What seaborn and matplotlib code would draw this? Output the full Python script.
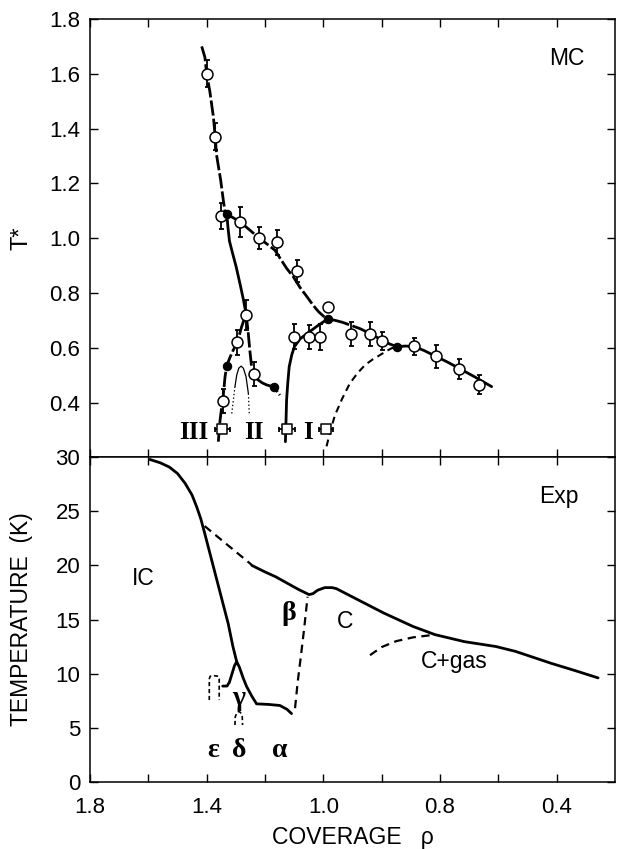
import numpy as np
import pandas as pd
import matplotlib
matplotlib.use("Agg")
import matplotlib.pyplot as plt
import seaborn as sns

# ---------------- data: top panel (MC) ----------------
open_x = [1.40, 1.37, 1.35, 1.285, 1.22, 1.16, 1.09, 1.265, 1.295, 1.345, 1.237,
          1.10, 1.05, 1.01, 0.905, 0.84, 0.80, 0.69, 0.615, 0.535, 0.468, 0.985]
open_y = [1.60, 1.37, 1.08, 1.06, 1.00, 0.985, 0.88, 0.72, 0.62, 0.405, 0.505,
          0.64, 0.64, 0.64, 0.65, 0.65, 0.625, 0.605, 0.568, 0.523, 0.465, 0.75]
open_err = [0.05, 0.05, 0.048, 0.055, 0.04, 0.045, 0.04, 0.055, 0.045, 0.043, 0.044,
            0.045, 0.043, 0.048, 0.044, 0.044, 0.034, 0.03, 0.042, 0.036, 0.035, 0.0]

filled_x = [1.331, 0.985, 1.331, 1.168, 0.748]
filled_y = [1.087, 0.705, 0.535, 0.455, 0.604]

square_x = [1.346, 1.124, 0.991]
square_y = [0.305, 0.305, 0.305]
square_xerr = [0.027, 0.027, 0.024]

lineA_x = [1.417, 1.406, 1.400, 1.389, 1.377, 1.371, 1.366, 1.352, 1.343, 1.336]
lineA_y = [1.70, 1.66, 1.60, 1.535, 1.443, 1.373, 1.303, 1.212, 1.139, 1.09]

lineB_x = [1.331, 1.327, 1.322, 1.31, 1.299, 1.285, 1.273, 1.265]
lineB_y = [1.087, 1.04, 0.99, 0.94, 0.896, 0.83, 0.77, 0.723]
lineB2_x = [1.265, 1.258, 1.252, 1.246]
lineB2_y = [0.723, 0.66, 0.59, 0.531]
lineB3_x = [1.240, 1.237, 1.232, 1.223, 1.21, 1.194, 1.18, 1.168]
lineB3_y = [0.52, 0.505, 0.49, 0.482, 0.472, 0.464, 0.46, 0.455]
lineB4_x = [1.168, 1.158, 1.149]
lineB4_y = [0.455, 0.44, 0.427]

lineC_x = [1.331, 1.31, 1.286, 1.255, 1.223, 1.195, 1.166, 1.126, 1.103, 1.08, 1.056, 1.035, 1.016, 0.996]
lineC_y = [1.087, 1.075, 1.06, 1.032, 1.003, 0.98, 0.956, 0.89, 0.859, 0.82, 0.786, 0.755, 0.731, 0.712]

lineD1_x = [0.985, 0.96, 0.935, 0.909, 0.875, 0.84, 0.80, 0.771, 0.748]
lineD1_y = [0.705, 0.70, 0.693, 0.683, 0.67, 0.652, 0.628, 0.613, 0.604]
lineD2_x = [0.748, 0.72, 0.692, 0.655, 0.617, 0.575, 0.535, 0.48, 0.423]
lineD2_y = [0.604, 0.606, 0.605, 0.59, 0.570, 0.548, 0.525, 0.493, 0.458]

lineE_x = [1.130, 1.128, 1.126, 1.122, 1.117, 1.108, 1.099, 1.08, 1.056, 1.035, 1.016, 0.996]
lineE_y = [0.257, 0.33, 0.409, 0.47, 0.531, 0.575, 0.604, 0.632, 0.652, 0.668, 0.683, 0.697]

lineF_x = [0.989, 0.975, 0.960, 0.935, 0.909, 0.883, 0.857, 0.83, 0.806, 0.785, 0.766, 0.748]
lineF_y = [0.24, 0.30, 0.354, 0.415, 0.470, 0.507, 0.537, 0.558, 0.573, 0.587, 0.598, 0.604]

lineG_x = [1.360, 1.357, 1.354, 1.350, 1.345, 1.337, 1.331, 1.320, 1.309, 1.295, 1.280, 1.265]
lineG_y = [0.257, 0.30, 0.336, 0.37, 0.405, 0.494, 0.535, 0.565, 0.591, 0.62, 0.677, 0.723]

arch_x = [1.303, 1.297, 1.290, 1.282, 1.274, 1.265, 1.257]
arch_y = [0.458, 0.50, 0.525, 0.533, 0.525, 0.494, 0.433]
archL_x = [1.314, 1.303]
archL_y = [0.36, 0.458]
archR_x = [1.257, 1.254]
archR_y = [0.433, 0.36]

top_yticks = [0.4, 0.6, 0.8, 1.0, 1.2, 1.4, 1.6, 1.8]
top_yticklabels = ["0.4", "0.6", "0.8", "1.0", "1.2", "1.4", "1.6", "1.8"]

# ---------------- data: bottom panel (Exp) ----------------
ic_x = [1.595, 1.56, 1.528, 1.50, 1.474, 1.45, 1.434, 1.42, 1.407, 1.38, 1.353, 1.326, 1.31, 1.297]
ic_y = [29.8, 29.5, 29.1, 28.5, 27.6, 26.5, 25.4, 24.3, 23.0, 20.2, 17.4, 14.6, 12.5, 11.1]

bump_x = [1.345, 1.33, 1.322, 1.314, 1.305, 1.297, 1.288, 1.275, 1.263, 1.245, 1.229, 1.19, 1.149, 1.125, 1.109]
bump_y = [8.84, 8.85, 9.2, 9.9, 10.7, 11.1, 10.6, 9.6, 8.8, 7.9, 7.2, 7.15, 7.05, 6.7, 6.3]

eps_x = [1.391, 1.391, 1.388, 1.374, 1.36, 1.357, 1.357]
eps_y = [7.55, 9.5, 9.75, 9.8, 9.75, 9.5, 7.55]

delta_x = [1.303, 1.302, 1.296, 1.29, 1.284, 1.278, 1.277]
delta_y = [5.24, 6.0, 6.4, 6.5, 6.4, 6.0, 5.24]

cdash_x = [1.407, 1.245]
cdash_y = [23.64, 20.04]

cline_x = [1.245, 1.20, 1.164, 1.12, 1.083, 1.06, 1.049, 1.035, 1.02, 0.995, 0.97, 0.955,
           0.894, 0.793, 0.692, 0.617, 0.516, 0.408, 0.341, 0.28, 0.219, 0.14, 0.058]
cline_y = [20.0, 19.4, 18.96, 18.3, 17.75, 17.45, 17.3, 17.4, 17.7, 17.95, 17.95, 17.85,
           17.0, 15.6, 14.35, 13.6, 12.95, 12.5, 12.05, 11.5, 10.95, 10.3, 9.6]

beta_x = [1.097, 1.088, 1.077, 1.066, 1.054]
beta_y = [6.8, 9.2, 11.6, 14.1, 17.1]

cgas_x = [0.84, 0.80, 0.75, 0.692, 0.646, 0.617]
cgas_y = [11.7, 12.45, 13.0, 13.35, 13.5, 13.6]

bot_yticks = [0, 5, 10, 15, 20, 25, 30]
bot_yticklabels = ["0", "5", "10", "15", "20", "25", "30"]

xticks = [1.8, 1.6, 1.4, 1.2, 1.0, 0.8, 0.6, 0.4, 0.2]
xticklabels = ["1.8", "", "1.4", "", "1.0", "", "0.8", "", "0.4"]

# ---------------- style ----------------
sns.set_theme(style="ticks")
plt.rcParams["font.family"] = ["Liberation Sans", "DejaVu Sans"]
plt.rcParams["lines.scale_dashes"] = False
plt.rcParams["axes.linewidth"] = 1.1
plt.rcParams["text.color"] = "black"
plt.rcParams["axes.labelcolor"] = "black"
plt.rcParams["xtick.color"] = "black"
plt.rcParams["ytick.color"] = "black"
plt.rcParams["xtick.labelcolor"] = "black"
plt.rcParams["ytick.labelcolor"] = "black"

fig = plt.figure(figsize=(6.17, 8.49), dpi=100)
W, H = 617.0, 849.0
L, R = 90.0, 615.0
ax_top = fig.add_axes([L / W, 1 - 457.3 / H, (R - L) / W, (457.3 - 19) / H])
ax_bot = fig.add_axes([L / W, 1 - 781.7 / H, (R - L) / W, (781.7 - 457.3) / H])

K = "black"
LW = 2.0


def draw(ax, x, y, ls="-", lw=LW, z=2):
    sns.lineplot(x=x, y=y, ax=ax, sort=False, estimator=None, color=K,
                 linewidth=lw, linestyle=ls, zorder=z)


longdash = (0, (11, 2.2))
shortdash = (0, (5, 3.5))
bdash = (0, (6, 4))
SERIF = ["Liberation Serif", "DejaVu Serif"]

# top panel lines
draw(ax_top, lineA_x, lineA_y, longdash)
draw(ax_top, lineB_x, lineB_y, "-")
draw(ax_top, lineB2_x, lineB2_y, longdash)
draw(ax_top, lineB3_x, lineB3_y, "-")
draw(ax_top, lineB4_x, lineB4_y, (0, (4, 2)))
draw(ax_top, lineC_x, lineC_y, longdash)
draw(ax_top, lineD1_x, lineD1_y, (0, (16, 2.5)))
draw(ax_top, lineD2_x, lineD2_y, "-")
draw(ax_top, lineE_x, lineE_y, "-")
draw(ax_top, lineF_x, lineF_y, shortdash, lw=1.5)
draw(ax_top, lineG_x, lineG_y, longdash)
draw(ax_top, arch_x, arch_y, "-", lw=0.9)
draw(ax_top, archL_x, archL_y, ":", lw=0.9)
draw(ax_top, archR_x, archR_y, ":", lw=0.9)

# error bars
ax_top.errorbar(open_x, open_y, yerr=open_err, fmt="none", ecolor=K,
                elinewidth=1.3, capsize=1.8, capthick=1.3, zorder=3)
ax_top.errorbar(square_x, square_y, xerr=square_xerr, fmt="none", ecolor=K,
                elinewidth=1.3, capsize=1.8, capthick=1.3, zorder=3)

# markers
sns.scatterplot(x=open_x, y=open_y, ax=ax_top, marker="o", s=62,
                facecolor="white", edgecolor=K, linewidth=1.1, zorder=5)
sns.scatterplot(x=filled_x, y=filled_y, ax=ax_top, marker="o", s=36,
                color=K, edgecolor=K, linewidth=0.8, zorder=6)
sns.scatterplot(x=square_x, y=square_y, ax=ax_top, marker="s", s=50,
                facecolor="white", edgecolor=K, linewidth=1.1, zorder=6)

# roman numerals
for txt, xx in [("III", 1.446), ("II", 1.237), ("I", 1.051)]:
    ax_top.text(xx, 0.29, txt, family=SERIF, fontweight="bold", fontsize=18,
                ha="center", va="center", color=K)

ax_top.text(0.166, 1.656, "MC", fontsize=16.5, ha="center", va="center", color=K)

ax_top.set_xlim(1.8, 0.0)
ax_top.set_ylim(0.2, 1.8)
ax_top.set_xticks(xticks)
ax_top.set_xticklabels([])
ax_top.set_yticks(top_yticks)
ax_top.set_yticklabels(top_yticklabels)
ax_top.set_ylabel("T*", fontsize=17, va="center", ha="center", color=K)
ax_top.yaxis.set_label_coords(-0.13, 0.5)
ax_top.set_xlabel("")

# bottom panel lines
draw(ax_bot, ic_x, ic_y, "-")
draw(ax_bot, bump_x, bump_y, "-")
draw(ax_bot, eps_x, eps_y, (0, (3, 2)), lw=1.2)
draw(ax_bot, delta_x, delta_y, (0, (3, 2)), lw=1.2)
draw(ax_bot, cdash_x, cdash_y, bdash, lw=1.6)
draw(ax_bot, cline_x, cline_y, "-")
draw(ax_bot, beta_x, beta_y, bdash, lw=1.6)
draw(ax_bot, cgas_x, cgas_y, bdash, lw=1.6)

ax_bot.text(0.193, 26.4, "Exp", fontsize=16.5, ha="center", va="center", color=K)
ax_bot.text(1.616, 18.8, "IC", fontsize=16.5, ha="center", va="center", color=K)
ax_bot.text(0.927, 14.8, "C", fontsize=16.5, ha="center", va="center", color=K)
ax_bot.text(0.550, 11.1, "C+gas", fontsize=16.5, ha="center", va="center", color=K)
greek = [("β", 1.119, 15.6), ("γ", 1.292, 7.7), ("ε", 1.376, 2.9),
         ("δ", 1.290, 2.9), ("α", 1.151, 2.9)]
for g, gx, gy in greek:
    ax_bot.text(gx, gy, g, family=SERIF, fontweight="bold", fontsize=20,
                ha="center", va="center", color=K)

ax_bot.set_xlim(1.8, 0.0)
ax_bot.set_ylim(0, 30)
ax_bot.set_xticks(xticks)
ax_bot.set_xticklabels(xticklabels)
ax_bot.set_yticks(bot_yticks)
ax_bot.set_yticklabels(bot_yticklabels)
ax_bot.set_ylabel("TEMPERATURE  (K)", fontsize=16.5, va="center", ha="center", color=K)
ax_bot.yaxis.set_label_coords(-0.13, 0.5)
ax_bot.set_xlabel("COVERAGE   ρ", fontsize=16.5, va="top", color=K)
ax_bot.xaxis.set_label_coords(0.5, -0.138)

for ax in (ax_top, ax_bot):
    for sp in ax.spines.values():
        sp.set_visible(True)
        sp.set_color(K)
        sp.set_linewidth(1.1)
    ax.tick_params(direction="in", length=6, width=1.0, top=True, right=True,
                   labelsize=16, colors=K)
    ax.tick_params(axis="y", pad=7)
    ax.tick_params(axis="x", pad=11)
    ax.grid(False)

fig.savefig("out.png", dpi=100, facecolor="white")
